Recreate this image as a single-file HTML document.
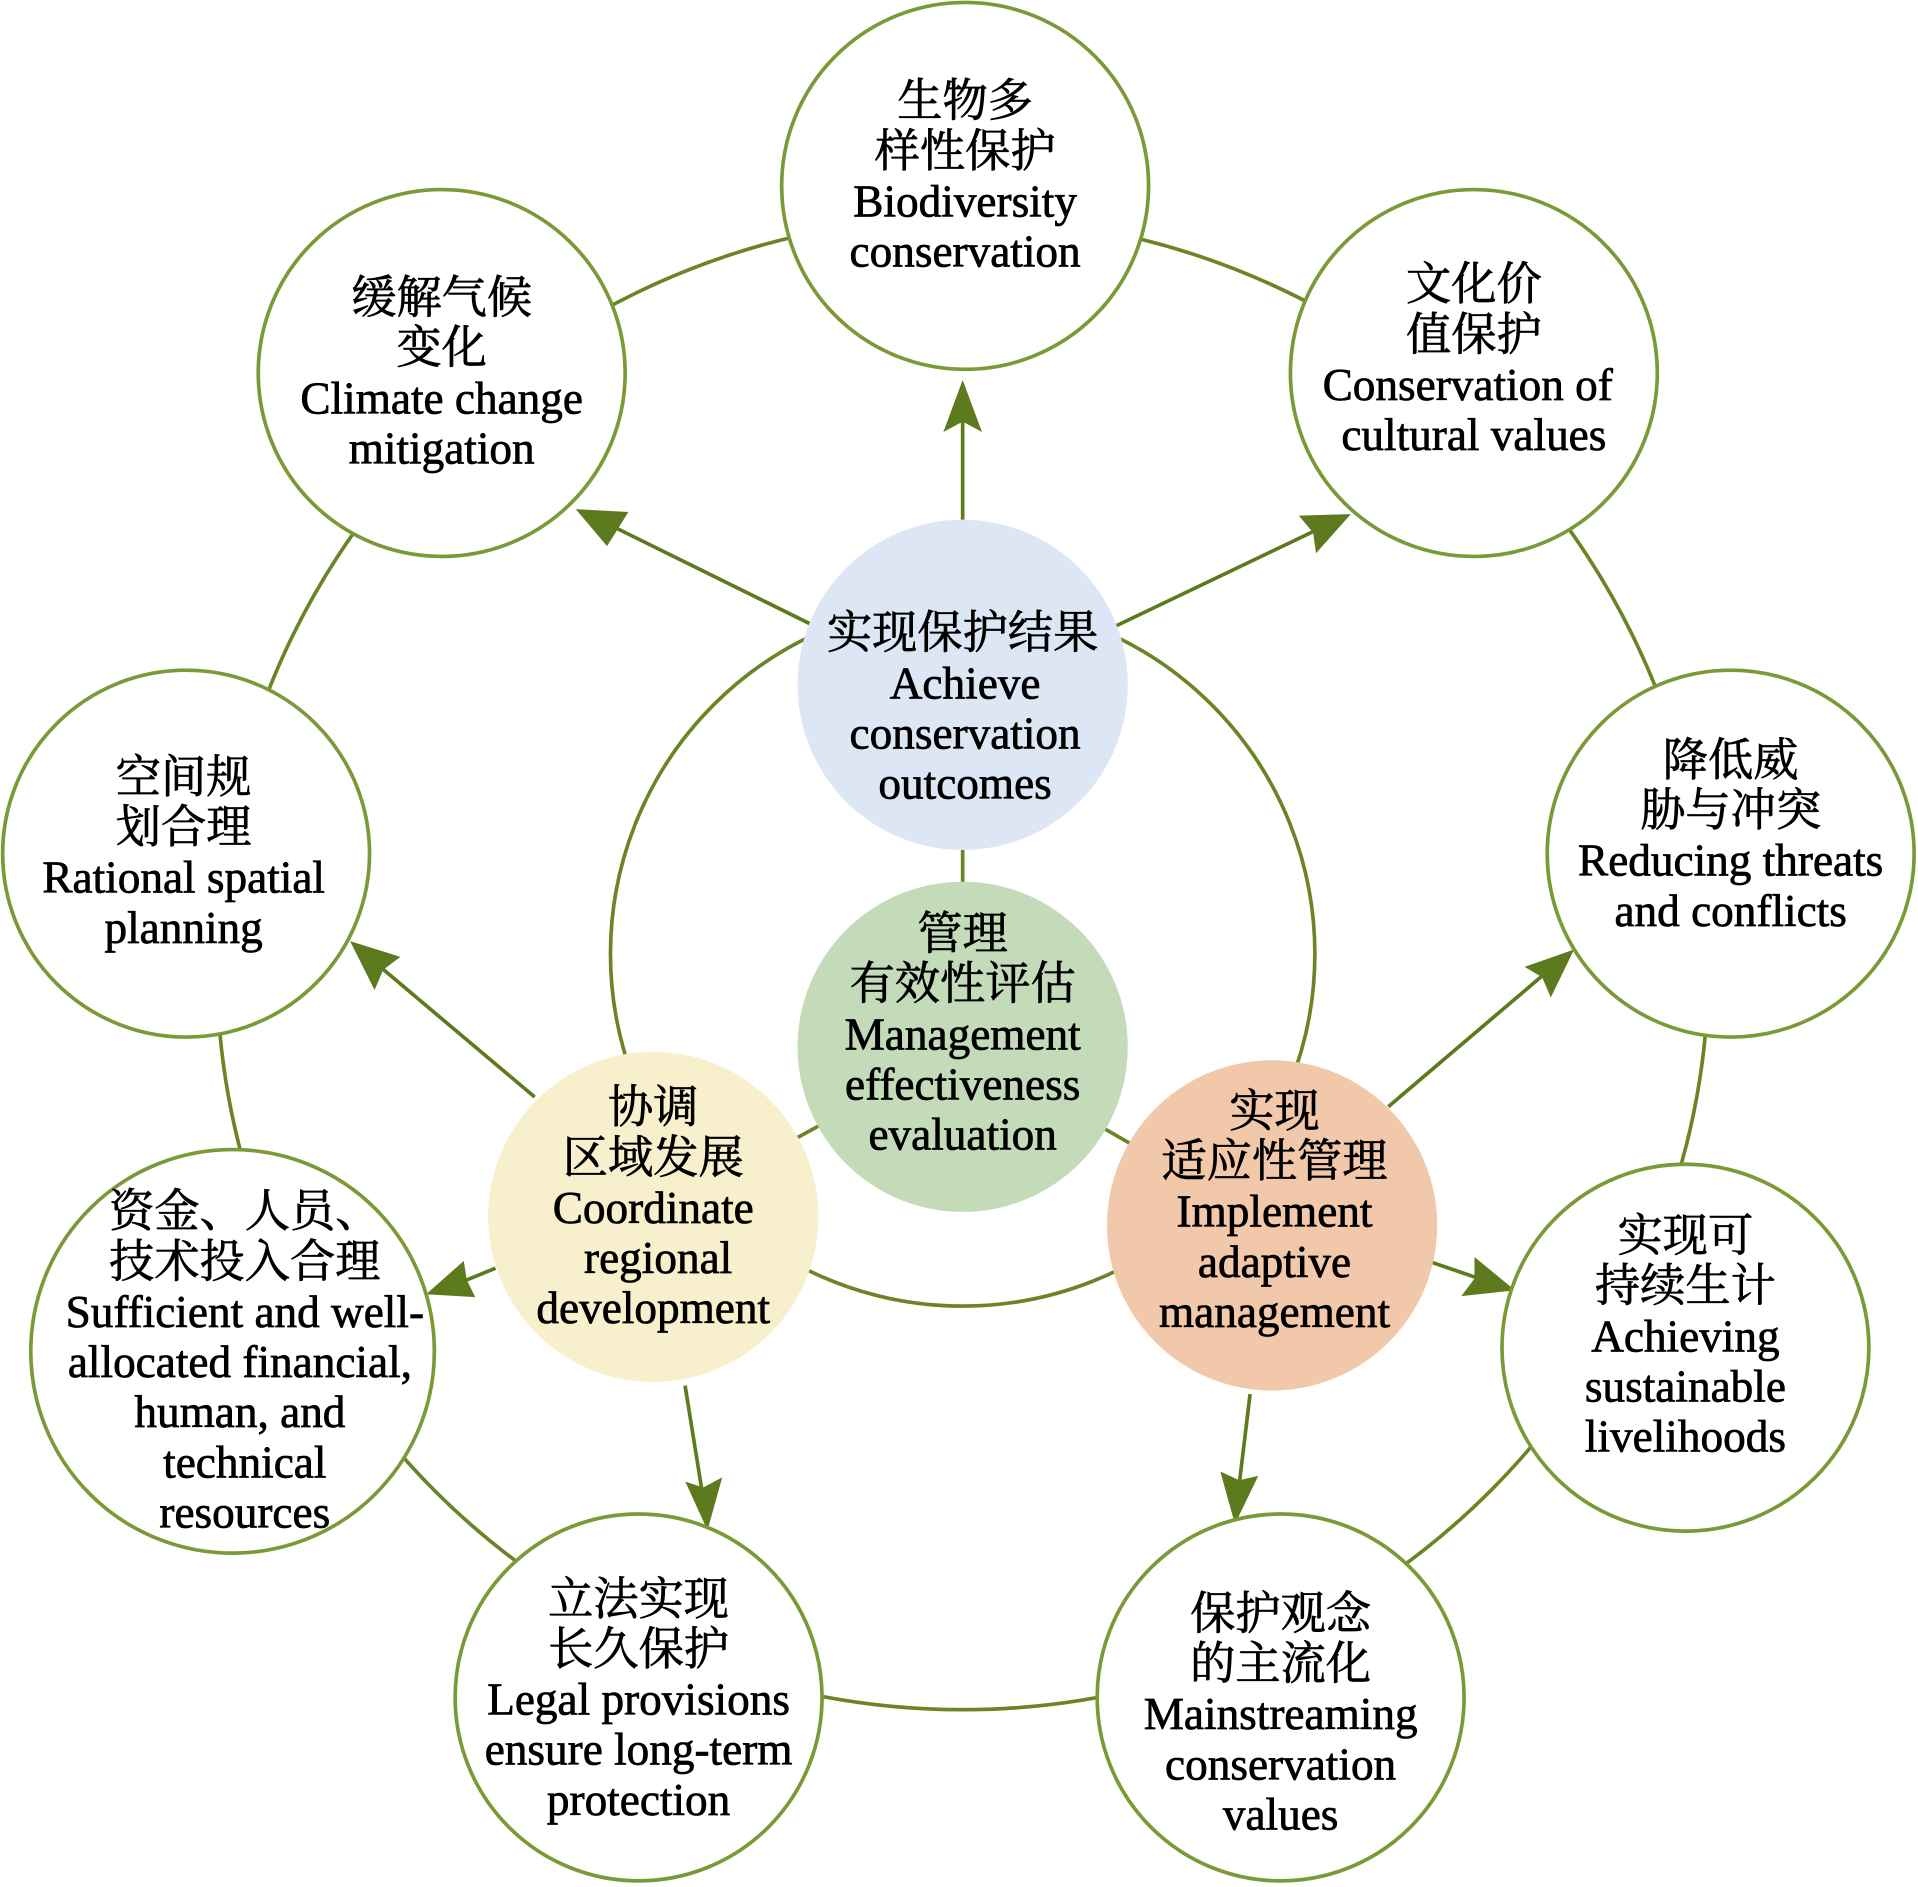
<!DOCTYPE html>
<html><head><meta charset="utf-8"><style>
html,body{margin:0;padding:0;background:#fff;}
svg{display:block;}
text{font-family:"Liberation Serif","Noto Serif CJK SC",serif;font-size:37px;fill:#000;stroke:#000;stroke-width:0.6px;text-anchor:middle;}
text.e{font-size:37px;}
</style></head><body>
<svg width="1918" height="1887" viewBox="0 0 1568 1543" xmlns="http://www.w3.org/2000/svg">
<g fill="none" stroke="#6b8526" stroke-width="3">
<circle cx="787" cy="788" r="610"/>
<circle cx="787" cy="780" r="288"/>
<line x1="787" y1="690" x2="787" y2="725"/>
<line x1="787" y1="856" x2="534" y2="995"/>
<line x1="787" y1="856" x2="1040" y2="1002"/>
</g>
<g stroke="#5d7a1f" stroke-width="3">
<line x1="787" y1="425" x2="787" y2="345"/>
<path d="M787,315 L800,350 L787,343 L774,350 Z" fill="#5d7a1f"/>
</g>
<g stroke="#5d7a1f" stroke-width="3" fill="#5d7a1f">
<line x1="662" y1="510" x2="500" y2="430"/><polygon points="474,418 511,420 503,433 496,444"/>
<line x1="912" y1="512" x2="1075" y2="434"/><polygon points="1101,422 1077,449 1075,435 1065,423"/>
<line x1="437" y1="897" x2="310" y2="790"/><polygon points="289,772 324,783 312,792 306,806"/>
<line x1="405" y1="1037" x2="378" y2="1048"/><polygon points="352,1057 378,1034 380,1047 386,1059"/>
<line x1="560" y1="1133" x2="574" y2="1220"/><polygon points="578,1247 563,1214 575,1218 588,1211"/>
<line x1="1135" y1="905" x2="1262" y2="797"/><polygon points="1284,779 1268,812 1262,798 1250,791"/>
<line x1="1170" y1="1032" x2="1208" y2="1045"/><polygon points="1235,1054 1198,1058 1207,1046 1207,1031"/>
<line x1="1022" y1="1140" x2="1013" y2="1215"/><polygon points="1010,1242 1000,1206 1013,1212 1026,1209"/>
</g>
<g stroke="#7a9a38" stroke-width="3" fill="#fff">
<circle cx="789" cy="152" r="150"/>
<circle cx="1205" cy="305" r="150"/>
<circle cx="361" cy="305" r="150"/>
<circle cx="152" cy="698" r="150"/>
<circle cx="1415" cy="698" r="150"/>
<circle cx="190" cy="1105" r="165"/>
<circle cx="1378" cy="1102" r="150"/>
<circle cx="522" cy="1388" r="150"/>
<circle cx="1047" cy="1388" r="150"/>
</g>
<circle cx="787" cy="560" r="135" fill="#dde6f4"/>
<circle cx="787" cy="856" r="135" fill="#c3dbb9"/>
<circle cx="534" cy="995" r="135" fill="#f8efcc"/>
<circle cx="1040" cy="1002" r="135" fill="#f1c8aa"/>
<text x="789" y="95">生物多</text><text x="789" y="136">样性保护</text><text class="e" x="789" y="177">Biodiversity</text><text class="e" x="789" y="218">conservation</text>
<text x="1205" y="245">文化价</text><text x="1205" y="286">值保护</text><text class="e" x="1200" y="327">Conservation of</text><text class="e" x="1205" y="368">cultural values</text>
<text x="361" y="256">缓解气候</text><text x="361" y="297">变化</text><text class="e" x="361" y="338">Climate change</text><text class="e" x="361" y="379">mitigation</text>
<text x="150" y="648">空间规</text><text x="150" y="689">划合理</text><text class="e" x="150" y="730">Rational spatial</text><text class="e" x="150" y="771">planning</text>
<text x="1415" y="634">降低威</text><text x="1415" y="675">胁与冲突</text><text class="e" x="1415" y="716">Reducing threats</text><text class="e" x="1415" y="757">and conflicts</text>
<text x="200" y="1003">资金、人员、</text><text x="200" y="1044">技术投入合理</text><text class="e" x="200" y="1085">Sufficient and well-</text><text class="e" x="196" y="1126">allocated financial,</text><text class="e" x="196" y="1167">human, and</text><text class="e" x="200" y="1208">technical</text><text class="e" x="200" y="1249">resources</text>
<text x="1378" y="1023">实现可</text><text x="1378" y="1064">持续生计</text><text class="e" x="1378" y="1105">Achieving</text><text class="e" x="1378" y="1146">sustainable</text><text class="e" x="1378" y="1187">livelihoods</text>
<text x="522" y="1320">立法实现</text><text x="522" y="1361">长久保护</text><text class="e" x="522" y="1402">Legal provisions</text><text class="e" x="522" y="1443">ensure long-term</text><text class="e" x="522" y="1484">protection</text>
<text x="1047" y="1332">保护观念</text><text x="1047" y="1373">的主流化</text><text class="e" x="1047" y="1414">Mainstreaming</text><text class="e" x="1047" y="1455">conservation</text><text class="e" x="1047" y="1496">values</text>
<text x="787" y="530">实现保护结果</text><text class="e" x="789" y="571">Achieve</text><text class="e" x="789" y="612">conservation</text><text class="e" x="789" y="653">outcomes</text>
<text x="787" y="776">管理</text><text x="787" y="817">有效性评估</text><text class="e" x="787" y="858">Management</text><text class="e" x="787" y="899">effectiveness</text><text class="e" x="787" y="940">evaluation</text>
<text x="534" y="918">协调</text><text x="534" y="959">区域发展</text><text class="e" x="534" y="1000">Coordinate</text><text class="e" x="538" y="1041">regional</text><text class="e" x="534" y="1082">development</text>
<text x="1042" y="921">实现</text><text x="1042" y="962">适应性管理</text><text class="e" x="1042" y="1003">Implement</text><text class="e" x="1042" y="1044">adaptive</text><text class="e" x="1042" y="1085">management</text>
</svg>
</body></html>
